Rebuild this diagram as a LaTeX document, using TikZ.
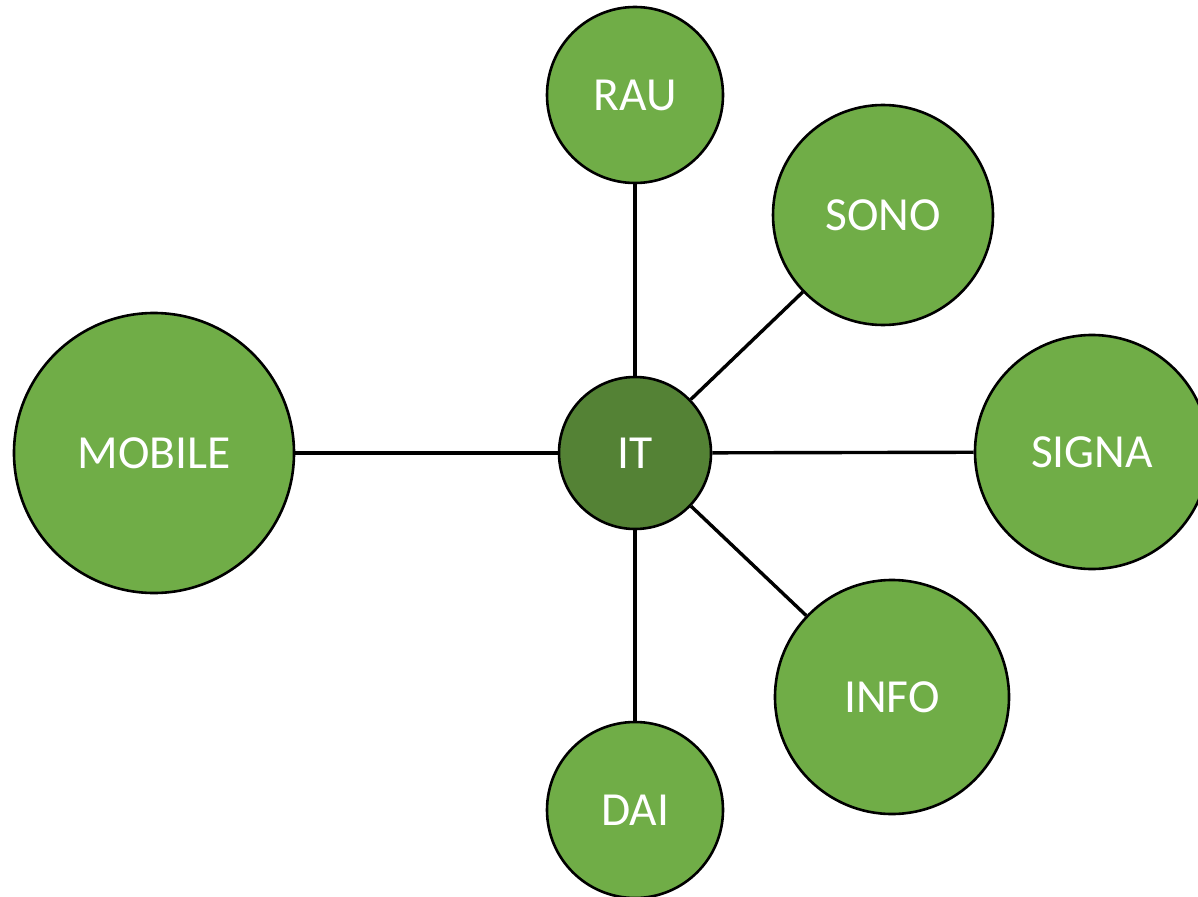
\documentclass[tikz,border=0pt]{standalone}
\usepackage{fontspec}
\setmainfont{Carlito}
\definecolor{lightg}{HTML}{70AD47}
\definecolor{darkg}{HTML}{548235}
\begin{document}
\begin{tikzpicture}[x=1pt,y=-1pt,
  bubble/.style={circle,draw=black,line width=2.6pt,fill=lightg,text=white,inner sep=0pt,font=\fontsize{47.5}{56}\selectfont},
  hub/.style={bubble,fill=darkg},
  link/.style={draw=black,line width=3.4pt}]
\useasboundingbox (0,0) rectangle (1198,896);
\node[hub,minimum size=152pt] (it) at (635,453) {IT};
\node[bubble,minimum size=176pt] (rau) at (635,95) {RAU};
\node[bubble,minimum size=220pt] (sono) at (883,215) {SONO};
\node[bubble,minimum size=234pt] (signa) at (1092,452) {SIGNA};
\node[bubble,minimum size=280pt] (mobile) at (154,453) {MOBILE};
\node[bubble,minimum size=234pt] (info) at (892,697) {INFO};
\node[bubble,minimum size=176pt] (dai) at (635,810) {DAI};
\draw[link] (it) -- (rau);
\draw[link] (it) -- (sono);
\draw[link] (it) -- (signa);
\draw[link] (it) -- (mobile);
\draw[link] (it) -- (info);
\draw[link] (it) -- (dai);
\end{tikzpicture}
\end{document}
